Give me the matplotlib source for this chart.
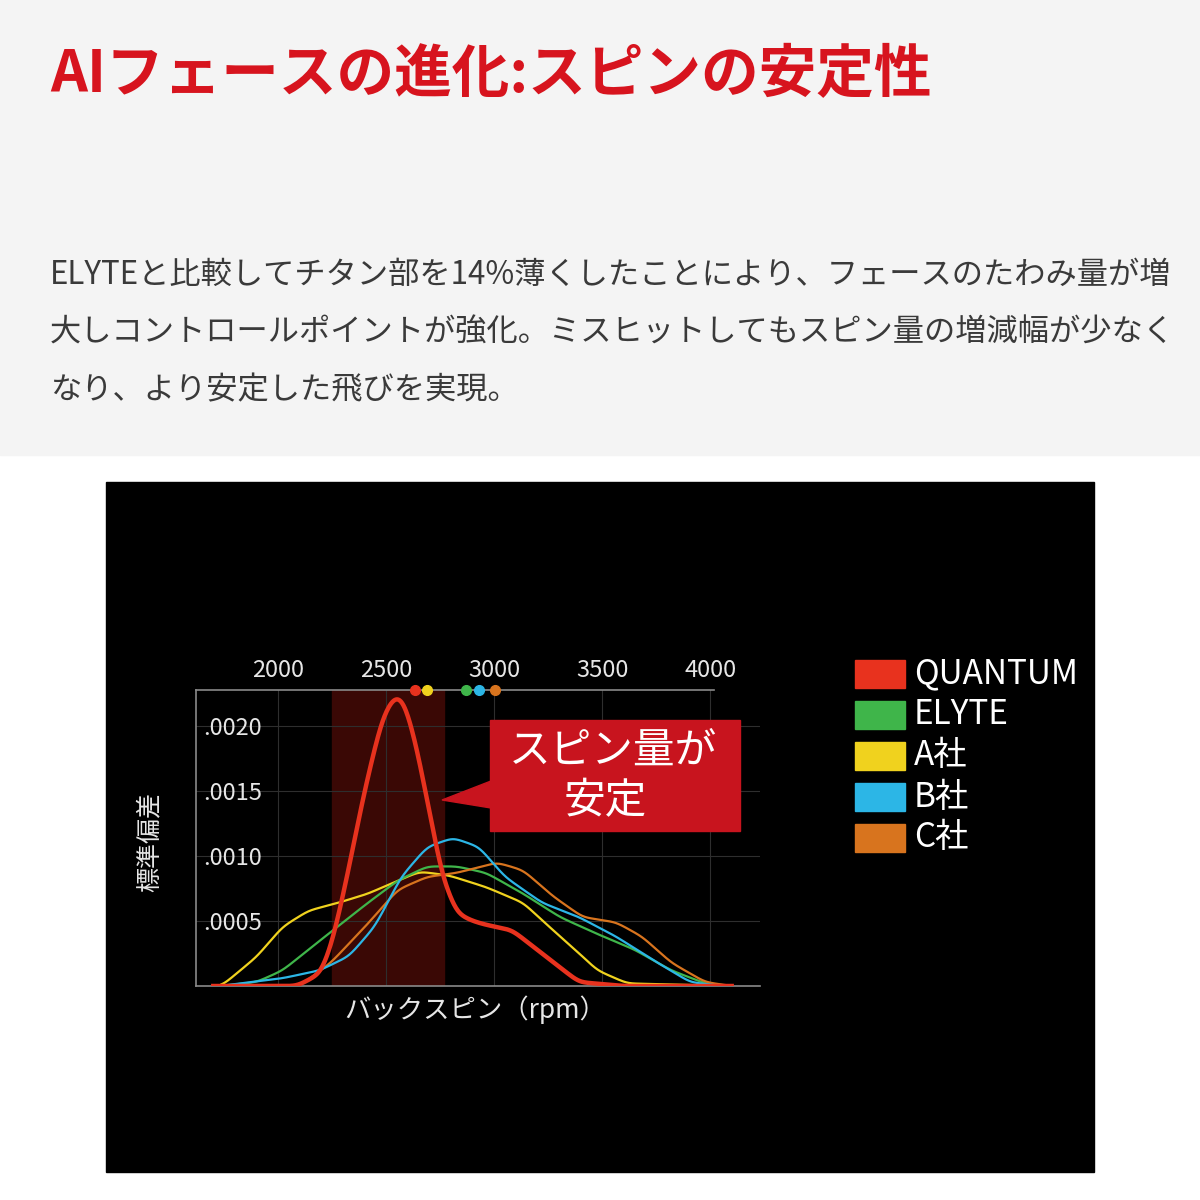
import numpy as np
import matplotlib
matplotlib.use("Agg")
import matplotlib.pyplot as plt
from matplotlib.patches import Rectangle, Polygon

plt.rcParams['font.family'] = ['Noto Sans CJK JP', 'DejaVu Sans']

# ---- data ----
title = "AIフェースの進化:スピンの安定性"
body_lines = [
    "ELYTEと比較してチタン部を14%薄くしたことにより、フェースのたわみ量が増",
    "大しコントロールポイントが強化。ミスヒットしてもスピン量の増減幅が少なく",
    "なり、より安定した飛びを実現。",
]
names = ["QUANTUM", "ELYTE", "A社", "B社", "C社"]
colors = ["#e8321e", "#3fb54a", "#f0d21e", "#2cb6e6", "#d8741e"]

quantum_x = [1700, 2088, 2200, 2253, 2313, 2400, 2480, 2525, 2553, 2585, 2640, 2690, 2760, 2827, 2900, 2964, 3083, 3222, 3393, 3600, 4100]
quantum_y = [0, 0, 0.00010, 0.00035, 0.00079, 0.00150, 0.00205, 0.00220, 0.00224, 0.00219, 0.00185, 0.00143, 0.00084, 0.00056, 0.00050, 0.00047, 0.00043, 0.00025, 0.00003, 0, 0]
elyte_x = [1730, 1900, 2021, 2141, 2278, 2416, 2553, 2690, 2827, 2964, 3135, 3305, 3478, 3650, 3820, 3977, 4100]
elyte_y = [0, 0.00003, 0.00012, 0.00028, 0.00046, 0.00064, 0.00081, 0.00092, 0.00092, 0.00087, 0.00071, 0.00053, 0.00040, 0.00028, 0.00012, 0.00002, 0]
a_x = [1738, 1901, 2021, 2141, 2278, 2416, 2553, 2656, 2792, 2964, 3135, 3239, 3375, 3478, 3616, 4100]
a_y = [0, 0.000225, 0.000456, 0.00058, 0.00064, 0.00071, 0.00081, 0.00088, 0.00085, 0.00076, 0.00064, 0.00048, 0.00028, 0.00012, 0.00002, 0]
b_x = [1730, 2021, 2192, 2329, 2449, 2570, 2690, 2810, 2930, 3050, 3222, 3393, 3565, 3736, 3907, 4050]
b_y = [0, 0.00006, 0.00012, 0.00023, 0.00046, 0.00084, 0.00107, 0.00114, 0.00107, 0.00084, 0.00064, 0.00053, 0.00038, 0.00020, 0.00003, 0]
c_x = [1730, 2100, 2245, 2416, 2553, 2690, 2827, 3013, 3135, 3273, 3410, 3565, 3685, 3820, 3977, 4100]
c_y = [0, 0, 0.00018, 0.00048, 0.00074, 0.00084, 0.00087, 0.00095, 0.00089, 0.00069, 0.00053, 0.00049, 0.00038, 0.00018, 0.00003, 0]
series_x = [quantum_x, elyte_x, a_x, b_x, c_x]
series_y = [quantum_y, elyte_y, a_y, b_y, c_y]
means = [2634, 2870, 2690, 2930, 3005]

xticks = [2000, 2500, 3000, 3500, 4000]
yticks = [0.0005, 0.0010, 0.0015, 0.0020]
ytick_labels = [".0005", ".0010", ".0015", ".0020"]
band = (2250, 2770)


def smooth(xs, ys):
    # dense linear interpolation, then a light gaussian blur
    gx = np.linspace(xs[0], xs[-1], 800)
    gy = np.interp(gx, xs, ys)
    k = np.exp(-0.5 * (np.arange(-24, 25) / 8.0) ** 2)
    k /= k.sum()
    pad = np.pad(gy, 24, mode='edge')
    return gx, np.convolve(pad, k, mode='valid')


fig = plt.figure(figsize=(12, 12), dpi=100, facecolor='white')
W, H = 1200.0, 1200.0


def fx(px):
    return px / W


def fy(py):
    return 1 - py / H


# light header area and black chart panel
fig.patches.append(Rectangle((0, fy(455)), 1, 455 / H, transform=fig.transFigure,
                             color='#f4f4f4', zorder=-2))
fig.patches.append(Rectangle((fx(106), fy(1172)), 988 / W, 690 / H,
                             transform=fig.transFigure, color='black', zorder=-1))

fig.text(fx(50), fy(75), title, color='#d7141e', fontsize=41.5, fontweight='bold',
         va='center', ha='left')
for i, line in enumerate(body_lines):
    fig.text(fx(50), fy(275 + 57.5 * i), line, color='#3a3a3a', fontsize=22.5,
             va='center', ha='left')

ax = fig.add_axes([fx(196), fy(986), (760 - 196) / W, (986 - 690) / H])
ax.set_zorder(1)
ax.set_facecolor('black')
ax.set_xlim(1620, 4231)
ax.set_ylim(0, 0.002277)

ax.axvspan(band[0], band[1], color='#3a0805', zorder=0)
for t in xticks:
    ax.axvline(t, color='#2e2e2e', lw=0.8, zorder=1)
for t in yticks:
    ax.axhline(t, color='#2e2e2e', lw=0.8, zorder=1)

for i in [2, 1, 4, 3, 0]:
    gx, gy = smooth(series_x[i], series_y[i])
    ax.plot(gx, gy, color=colors[i], lw=3.2 if i == 0 else 1.6, zorder=3 + (i == 0))

# top border line up to 4000 + mean markers
ax.plot([1620, 4020], [0.002277, 0.002277], color='#8a8a8a', lw=1.2,
        clip_on=False, zorder=5)
for m, c in zip(means, colors):
    ax.plot(m, 0.002277, 'o', color=c, ms=7, clip_on=False, zorder=6)

for s in ['top', 'right']:
    ax.spines[s].set_visible(False)
for s in ['left', 'bottom']:
    ax.spines[s].set_color('#8a8a8a')
    ax.spines[s].set_linewidth(1.2)

ax.xaxis.tick_top()
ax.set_xticks(xticks)
ax.set_xticklabels([str(t) for t in xticks])
ax.set_yticks(yticks)
ax.set_yticklabels(ytick_labels)
ax.tick_params(axis='x', length=0, pad=6, labelsize=17, labelcolor='#e6e6e6')
ax.tick_params(axis='y', length=0, pad=-5, labelsize=17, labelcolor='#e6e6e6')
for lbl in ax.get_yticklabels():
    lbl.set_horizontalalignment('left')

fig.text(fx(475), fy(1010), "バックスピン（rpm）", color='#e6e6e6', fontsize=19,
         ha='center', va='center')
fig.text(fx(150), fy(842), "標準偏差", color='#e6e6e6', fontsize=18,
         rotation=90, ha='center', va='center')

# callout
fig.patches.append(Rectangle((fx(490), fy(831)), 250 / W, 111 / H,
                             transform=fig.transFigure, color='#c8141e', zorder=7))
fig.patches.append(Polygon([(fx(491), fy(781)), (fx(442), fy(800)), (fx(491), fy(808))],
                           closed=True, transform=fig.transFigure, color='#c8141e', zorder=7))
fig.text(fx(613), fy(751), "スピン量が", color='white', fontsize=30,
         ha='center', va='center', zorder=8)
fig.text(fx(605), fy(802), "安定", color='white', fontsize=30,
         ha='center', va='center', zorder=8)

# legend
for i, (n, c) in enumerate(zip(names, colors)):
    top = 660 + 41 * i
    fig.patches.append(Rectangle((fx(855), fy(top + 28)), 50 / W, 28 / H,
                                 transform=fig.transFigure, color=c, zorder=2))
    fig.text(fx(914), fy(top + 14), n, color='white', fontsize=24,
             ha='left', va='center')

fig.savefig("out.png", dpi=100, facecolor=fig.get_facecolor())
